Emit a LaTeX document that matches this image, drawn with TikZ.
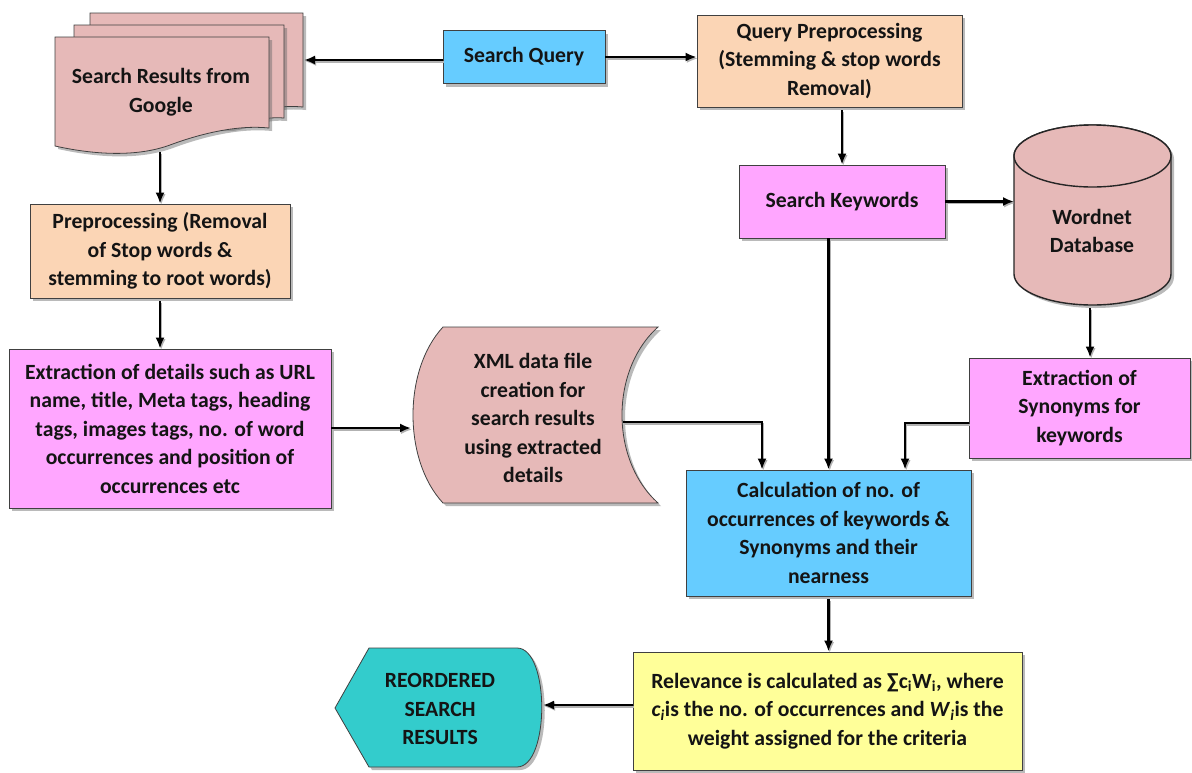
\documentclass[tikz,border=0pt]{standalone}
\usepackage{fontspec}
\setmainfont{Carlito}
\usetikzlibrary{arrows.meta,shadows}
\definecolor{qblue}{HTML}{66CCFF}
\definecolor{peach}{HTML}{FBD5B5}
\definecolor{magen}{HTML}{FFA6FF}
\definecolor{dpink}{HTML}{E6B9B8}
\definecolor{lyellow}{HTML}{FFFF99}
\definecolor{tealbox}{HTML}{33CCCC}
\definecolor{edgecol}{HTML}{404040}
\begin{document}
\begin{tikzpicture}[x=1pt,y=-1pt,
  txt/.style={font=\fontsize{21.7}{28.5}\selectfont\bfseries, text=black!92, align=center, inner sep=0pt},
  shad/.style={drop shadow={shadow xshift=3pt,shadow yshift=-3pt,fill=black!60,opacity=0.45}},
  box/.style={txt, draw=edgecol, line width=0.8pt, rectangle, shad},
  arr/.style={line width=2.2pt, -{Latex[length=11pt,width=9pt]},
    preaction={draw=black!30, line width=2pt, transform canvas={xshift=1.2pt,yshift=-1.5pt}}}
]
\fill[white] (0,0) rectangle (1192,772);
\useasboundingbox (0,0) rectangle (1192,772);

% stacked documents
\path[shad, fill=dpink, draw=edgecol, line width=0.8pt] (90,13) -- (303,13) -- (303,107) .. controls (270,104) and (240,115) .. (200,120) -- (90,120) -- cycle;
\path[shad, fill=dpink, draw=edgecol, line width=0.8pt] (74,25) -- (284,25) -- (284,118) .. controls (260,116) and (250,125) .. (230,128) -- (74,128) -- cycle;
\path[shad, fill=dpink, draw=edgecol, line width=0.8pt] (55,37) -- (269,37) -- (269,128) .. controls (240,125) and (205,132) .. (170,145) .. controls (140,156) and (100,156) .. (55,146) -- cycle;
\node[txt] (docs) at (161,92) {Search Results from\\Google};
\coordinate (docR) at (304,60);
\coordinate (docB) at (160,152);

% rectangles
\node[box, fill=qblue, minimum width=162pt, minimum height=53pt] (sq) at (524,57) {Search Query};
\node[box, fill=peach, minimum width=265pt, minimum height=92pt] (qp) at (829.5,61) {Query Preprocessing\\(Stemming \& stop words\\Removal)};
\node[box, fill=magen, minimum width=206pt, minimum height=73pt] (sk) at (842,201.5) {Search Keywords};
\node[box, fill=magen, minimum width=221pt, minimum height=100pt] (syn) at (1079.5,408) {Extraction of\\Synonyms for\\keywords};
\node[box, fill=qblue, minimum width=285pt, minimum height=126pt] (calc) at (828.5,533) {Calculation of no. of\\occurrences of keywords \&\\Synonyms and their\\nearness};
\node[box, fill=lyellow, minimum width=389pt, minimum height=118pt] (rel) at (827.5,711) {Relevance is calculated as ∑c\textsubscript{i}W\textsubscript{i}, where\\\textit{c}\textsubscript{\textit{i}}is the no. of occurrences and \textit{W}\textsubscript{\textit{i}}is the\\weight assigned for the criteria};
\node[box, fill=peach, minimum width=260pt, minimum height=94pt] (pre) at (160,251) {Preprocessing (Removal\\of Stop words \&\\stemming to root words)};
\node[box, fill=magen, minimum width=322pt, minimum height=159pt] (ext) at (170,428.5) {Extraction of details such as URL\\name, title, Meta tags, heading\\tags, images tags, no. of word\\occurrences and position of\\occurrences etc};

% cylinder
\path[shad, fill=dpink, draw=black!85, line width=1.4pt] (1014,156) -- (1014,274) arc[start angle=180,end angle=360,x radius=78.5pt,y radius=31pt] -- (1171,156) arc[start angle=0,end angle=180,x radius=78.5pt,y radius=31pt] -- cycle;
\draw[fill=dpink, draw=black!85, line width=1.4pt] (1092.5,156) ellipse [x radius=78.5pt, y radius=31pt];
\node[txt] (wn) at (1092,231) {Wordnet\\Database};
\coordinate (wnL) at (1014,204);
\coordinate (wnB) at (1090,308);

% stored data
\path[shad, fill=dpink, draw=edgecol, line width=0.8pt] (443,327) -- (658,327) .. controls (610,370) and (610,460) .. (658,503) -- (443,503) .. controls (403,460) and (403,370) .. (443,327) -- cycle;
\node[txt] (xml) at (533,418) {XML data file\\creation for\\search results\\using extracted\\details};
\coordinate (xmlL) at (411,428);
\coordinate (xmlR) at (623,422);

% display
\path[shad, fill=tealbox, draw=edgecol, line width=0.8pt] (335,708) -- (369,648) -- (517,648) .. controls (550,648) and (550,767) .. (517,767) -- (369,767) -- cycle;
\node[txt] (reord) at (440,709) {REORDERED\\SEARCH\\RESULTS};
\coordinate (reR) at (543,705);

% connectors
\draw[arr] (sq.west |- docR) -- (docR);
\draw[arr] (sq.east) -- (qp.west |- sq.east);
\draw[arr] ([yshift=-3pt]sk.north |- qp.south) -- (sk.north);
\draw[arr] (sk.east) -- (sk.east -| wnL);
\draw[arr] (wnB) -- (wnB |- syn.north);
\draw[arr] ([yshift=-15pt]syn.west) -| ([xshift=76.5pt]calc.north);
\draw[arr] (calc.north |- sk.south) -- (calc.north);
\draw[arr] (xmlR) -| ([xshift=-66.5pt]calc.north);
\draw[arr] ([yshift=-3pt]calc.south) -- (calc.south |- rel.north);
\draw[arr] (rel.west |- reR) -- (reR);
\draw[arr] (docB) -- (docB |- pre.north);
\draw[arr] ([yshift=-3pt]pre.south) -- (pre.south |- ext.north);
\draw[arr] (ext.east |- xmlL) -- (xmlL);
\end{tikzpicture}
\end{document}
